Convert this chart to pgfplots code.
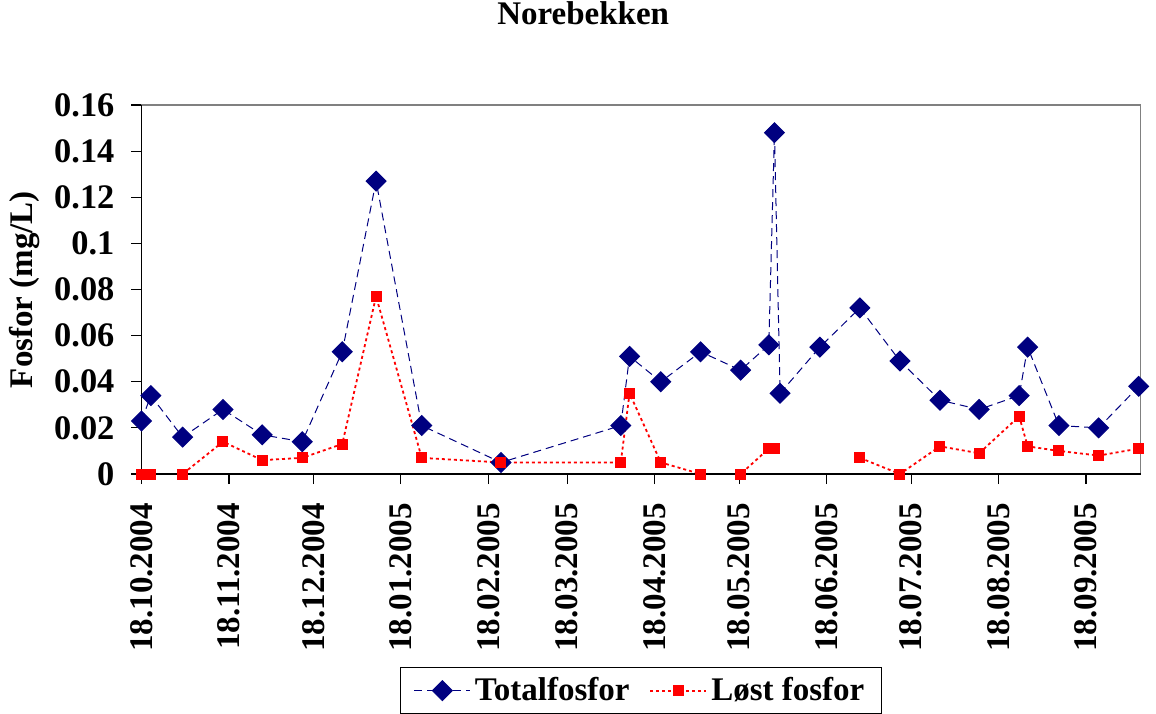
\documentclass[border=0pt]{standalone}
\usepackage{fontspec}
\setmainfont{Liberation Serif}
\usepackage{pgfplots}
\pgfplotsset{compat=1.18}
\definecolor{navyblue}{RGB}{0,0,128}
\newcommand{\chartfont}{\bfseries\fontsize{16.5}{20}\selectfont}
\begin{document}
\begin{tikzpicture}
\path[use as bounding box] (-70.75pt,-119.5pt) rectangle (507.25pt,237pt);
\begin{axis}[
    scale only axis,
    width=499.6pt, height=184.5pt,
    xmin=0, xmax=354.4,
    ymin=0, ymax=0.16,
    clip=false,
    axis line style={gray, line width=0.6pt},
    tick pos=left, tick align=outside,
    major tick length=5pt,
    tick style={black, line width=0.6pt},
    xtick={0,31,61,92,123,151,182,212,243,273,304,335},
    xticklabels={18.10.2004,18.11.2004,18.12.2004,18.01.2005,18.02.2005,18.03.2005,18.04.2005,18.05.2005,18.06.2005,18.07.2005,18.08.2005,18.09.2005},
    xticklabel style={rotate=90, anchor=east, font=\chartfont},
    xticklabel shift=6pt,
    ytick={0,0.02,0.04,0.06,0.08,0.1,0.12,0.14,0.16},
    yticklabels={0,0.02,0.04,0.06,0.08,0.1,0.12,0.14,0.16},
    yticklabel style={font=\fontsize{17.2}{20}\selectfont\bfseries},
    yticklabel shift=5pt,
    title={Norebekken},
    title style={at={(0.442,1.217)}, anchor=center, font=\chartfont},
    ylabel={Fosfor (mg/L)},
    ylabel style={at={(axis description cs:-0.1166,0.5)}, anchor=center, font=\chartfont},
    legend columns=2,
    legend style={at={(0.5,-0.523)}, anchor=north, draw=black, line width=0.6pt,
        font=\chartfont, inner xsep=6.5pt, inner ysep=3pt,
        /tikz/every even column/.append style={column sep=8pt}},
    legend image code/.code={\draw[mark repeat=2,mark phase=2,#1] plot coordinates {(0pt,0pt) (14pt,0pt) (28pt,0pt)};},
]
\addplot[navyblue, line width=0.5pt, dash pattern=on 4pt off 2.5pt,
    mark=square*, mark size=3.5pt, mark options={solid, rotate=45, fill=navyblue}]
  coordinates {
(0,0.023) (3.3,0.034) (14.6,0.016) (28.9,0.028) (42.8,0.017) (57,0.014)
(71.2,0.053) (83.2,0.127) (99.4,0.021) (127.5,0.005) (170,0.021) (173.1,0.051)
(184.2,0.040) (198.3,0.053) (212.5,0.045) (222.5,0.056) (224.5,0.148) (226.5,0.035)
(240.6,0.055) (254.8,0.072) (269,0.049) (283.2,0.032) (297.1,0.028) (311.3,0.034)
(314.3,0.055) (325.4,0.021) (339.5,0.020) (353.7,0.038)
};
\addlegendentry{Totalfosfor}
\addplot[red, line width=0.9pt, dash pattern=on 1.5pt off 1.5pt, unbounded coords=jump,
    mark=square*, mark size=2.3pt, mark options={solid, fill=red}]
  coordinates {
(0,0) (3.3,0) (14.6,0) (28.9,0.014) (42.8,0.006) (57,0.007)
(71.2,0.013) (83.2,0.077) (99.4,0.007) (127.5,0.005) (170,0.005) (173.1,0.035)
(184.2,0.005) (198.3,0) (212.5,0) (222.5,0.011) (224.5,0.011) (226.5,nan)
(240.6,nan) (254.8,0.007) (269,0) (283.2,0.012) (297.1,0.009) (311.3,0.025)
(314.3,0.012) (325.4,0.010) (339.5,0.008) (353.7,0.011)
};
\addlegendentry{Løst fosfor}
\draw[black, line width=0.6pt] (rel axis cs:0,1) -- (rel axis cs:0,0) -- (rel axis cs:1,0);
\end{axis}
\end{tikzpicture}
\end{document}
